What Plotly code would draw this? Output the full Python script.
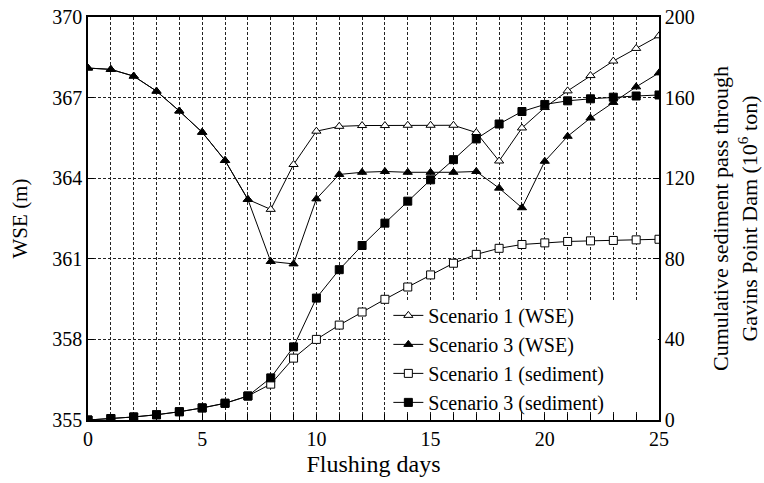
import plotly.graph_objects as go

days = list(range(0, 26))

wse_s1 = [368.1, 368.05, 367.8, 367.24, 366.5, 365.71, 364.66, 363.21, 362.84, 364.51,
          365.75, 365.93, 365.96, 365.96, 365.97, 365.97, 365.97, 365.7, 364.64, 365.87,
          366.63, 367.25, 367.82, 368.36, 368.83, 369.3]
wse_s3 = [368.1, 368.05, 367.8, 367.24, 366.5, 365.71, 364.66, 363.21, 360.9, 360.81,
          363.23, 364.14, 364.22, 364.25, 364.22, 364.22, 364.22, 364.25, 363.63, 362.9,
          364.63, 365.56, 366.24, 366.82, 367.4, 367.92]
sed_s1 = [0, 0.7, 1.5, 2.6, 4.1, 6.0, 8.3, 11.9, 17.8, 30.7,
          40.0, 47.1, 53.6, 59.9, 66.0, 72.0, 77.8, 82.2, 85.2, 87.1,
          87.9, 88.6, 88.9, 89.1, 89.4, 89.7]
sed_s3 = [0, 0.7, 1.5, 2.6, 4.1, 6.0, 8.3, 11.9, 20.9, 36.3,
          60.5, 74.6, 86.6, 97.7, 108.6, 119.2, 129.2, 139.5, 146.9, 153.1,
          156.6, 158.4, 159.4, 160.2, 160.8, 161.3]

x_tick_vals = days
x_tick_text = [str(d) if d % 5 == 0 else "" for d in days]
wse_ticks = [355, 358, 361, 364, 367, 370]
sed_ticks = [0, 40, 80, 120, 160, 200]

FONT = "Liberation Serif"
fig = go.Figure()

def add(name, y, symbol, fill, axis):
    fig.add_trace(go.Scatter(
        x=days, y=y, name=name, mode="lines+markers", yaxis=axis,
        line=dict(color="black", width=1),
        marker=dict(symbol=symbol, size=8, color=fill, line=dict(color="black", width=1)),
    ))

add("Scenario 1 (WSE)", wse_s1, "triangle-up", "white", "y")
add("Scenario 3 (WSE)", wse_s3, "triangle-up", "black", "y")
add("Scenario 1 (sediment)", sed_s1, "square", "white", "y2")
add("Scenario 3 (sediment)", sed_s3, "square", "black", "y2")

grid = dict(showgrid=True, gridcolor="#222", gridwidth=1, griddash="3px,2px")

fig.update_layout(
    width=764, height=483,
    margin=dict(l=88, r=105, t=17, b=63),
    paper_bgcolor="white", plot_bgcolor="white",
    font=dict(family=FONT, size=20, color="black"),
    showlegend=True,
    legend=dict(x=0.526, y=0.308, xanchor="left", yanchor="top",
                bgcolor="rgba(0,0,0,0)", borderwidth=0,
                font=dict(family=FONT, size=20), tracegroupgap=0),
    xaxis=dict(range=[0, 25], tickvals=x_tick_vals, ticktext=x_tick_text,
               ticks="inside", ticklen=6, tickcolor="black",
               showline=True, linecolor="black", linewidth=1.5, mirror=True,
               zeroline=False, automargin=False, ticklabeloverflow="allow",
               title=dict(text="Flushing days", standoff=6),
               **grid),
    yaxis=dict(range=[355, 370], tickvals=wse_ticks,
               ticks="inside", ticklen=6, tickcolor="black",
               showline=True, linecolor="black", linewidth=1.5, mirror=True,
               zeroline=False, automargin=False, ticklabeloverflow="allow",
               title=dict(text="WSE (m)", standoff=19, font=dict(size=21)),
               **grid),
    yaxis2=dict(range=[0, 200], tickvals=sed_ticks, overlaying="y", side="right",
                ticks="inside", ticklen=6, tickcolor="black",
                showline=True, linecolor="black", linewidth=1.5,
                showgrid=False, zeroline=False, automargin=False, ticklabeloverflow="allow",
                title=dict(text="Cumulative sediment pass through<br>Gavins Point Dam (10<sup>6</sup> ton)",
                           standoff=19, font=dict(size=22))),
    shapes=[dict(type="rect", xref="paper", yref="paper", x0=0.528, x1=0.998, y0=0.022, y1=0.298,
                 fillcolor="white", line=dict(width=0), layer="above")],
)

fig.write_html("out.html", config={"displayModeBar": False},
               post_script="document.body.style.margin='0';")
